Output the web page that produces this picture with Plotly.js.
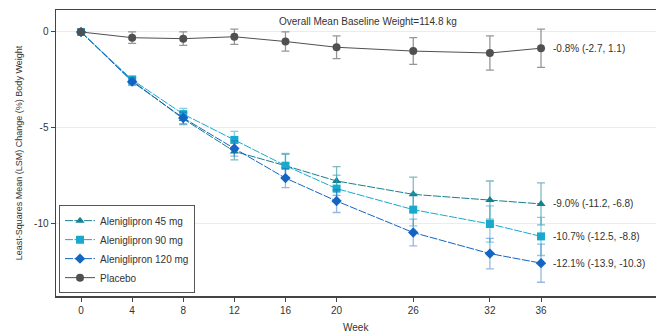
<!DOCTYPE html>
<html>
<head>
<meta charset="utf-8">
<script src="https://cdn.plot.ly/plotly-3.0.1.min.js"></script>
<style>html,body{margin:0;padding:0;background:#fff;}#chart{width:656px;height:336px;}</style>
</head>
<body>
<div id="chart"></div>
<script>
// ---- data ----
const weeks = [0, 4, 8, 12, 16, 20, 26, 32, 36];
const weekTicks = [0, 4, 8, 12, 16, 20, 26, 32, 36];
const seriesNames = ["Aleniglipron 45 mg", "Aleniglipron 90 mg", "Aleniglipron 120 mg", "Placebo"];
const ale45 = [0, -2.55, -4.55, -6.25, -7.0, -7.8, -8.5, -8.8, -9.0];
const ale45Err = [0, 0.2, 0.3, 0.45, 0.6, 0.75, 0.9, 1.0, 1.1];
const ale90 = [0, -2.5, -4.3, -5.65, -7.0, -8.2, -9.3, -10.05, -10.7];
const ale90Err = [0, 0.2, 0.3, 0.45, 0.65, 0.7, 0.85, 0.95, 1.0];
const ale120 = [0, -2.6, -4.5, -6.1, -7.65, -8.85, -10.5, -11.6, -12.1];
const ale120Err = [0, 0.2, 0.3, 0.4, 0.5, 0.6, 0.7, 0.8, 1.0];
const placebo = [0, -0.3, -0.35, -0.25, -0.5, -0.8, -1.0, -1.1, -0.85];
const placeboErr = [0, 0.3, 0.35, 0.4, 0.5, 0.6, 0.7, 0.9, 1.0];
const endLabels = ["-9.0% (-11.2, -6.8)", "-10.7% (-12.5, -8.8)", "-12.1% (-13.9, -10.3)", "-0.8% (-2.7, 1.1)"];
const noteText = "Overall Mean Baseline Weight=114.8 kg";
const xTitle = "Week";
const yTitle = "Least-Squares Mean (LSM) Change (%) Body Weight";

// ---- styles ----
const FONT = "Liberation Sans, Arial, sans-serif";
const styles = [
  {color: "#17808f", err: "rgba(23,128,143,0.55)", symbol: "triangle-up", size: 8, dash: "8px,1.5px"},
  {color: "#19a9cc", err: "rgba(25,169,204,0.55)", symbol: "square", size: 8, dash: "8px,1.5px"},
  {color: "#1464c4", err: "rgba(20,100,196,0.45)", symbol: "diamond", size: 8, dash: "8px,1.5px"},
  {color: "#505050", err: "rgba(80,80,80,0.6)", symbol: "circle", size: 8, dash: "solid"}
];
const values = [ale45, ale90, ale120, placebo];
const errs = [ale45Err, ale90Err, ale120Err, placeboErr];

const traces = values.map((v, i) => ({
  type: "scatter",
  mode: "lines+markers",
  name: seriesNames[i],
  x: weeks,
  y: v,
  error_y: {type: "data", array: errs[i], visible: true, color: styles[i].err, thickness: 1.3, width: 4},
  line: {color: styles[i].color, width: 1, dash: styles[i].dash},
  marker: {color: styles[i].color, symbol: styles[i].symbol, size: styles[i].size}
}));

const annotations = values.map((v, i) => ({
  x: weeks[weeks.length - 1], y: v[v.length - 1], xref: "x", yref: "y",
  text: endLabels[i], showarrow: false, xanchor: "left", yanchor: "middle", xshift: 10,
  font: {family: FONT, size: 10, color: "#333"}
}));
annotations.push({
  x: 0.52, y: 0.985, xref: "paper", yref: "paper", text: noteText, showarrow: false,
  xanchor: "center", yanchor: "top", font: {family: FONT, size: 10, color: "#333"}
});
annotations.push({
  x: 0.5, y: -0.136, xref: "paper", yref: "paper", text: xTitle, showarrow: false,
  xanchor: "center", yanchor: "bottom", font: {family: FONT, size: 10, color: "#333"}
});

const layout = {
  width: 656, height: 336,
  margin: {l: 56, r: 0, t: 10, b: 40},
  paper_bgcolor: "#fff", plot_bgcolor: "#fff",
  font: {family: FONT, size: 10, color: "#333"},
  showlegend: true,
  legend: {
    x: 0.005, y: 0.01, xanchor: "left", yanchor: "bottom",
    bgcolor: "#fff", bordercolor: "#555", borderwidth: 1,
    font: {family: FONT, size: 10, color: "#333"},
    tracegroupgap: 0
  },
  xaxis: {
    range: [-1.96, 45], tickmode: "array", tickvals: weekTicks, ticktext: weekTicks.map(String),
    showgrid: false, zeroline: false, showline: true, linecolor: "#444", linewidth: 1.5,
    mirror: true, ticks: "outside", ticklen: 4, tickcolor: "#444",
    tickfont: {family: FONT, size: 10, color: "#333"}
  },
  yaxis: {
    range: [-13.82, 1.15], tickvals: [0, -5, -10], ticktext: ["0", "-5", "-10"],
    showgrid: true, gridcolor: "#ececec", gridwidth: 1, zeroline: false,
    showline: true, linecolor: "#444", linewidth: 1.5, ticks: "outside", ticklen: 4, tickcolor: "#444",
    tickfont: {family: FONT, size: 10, color: "#333"},
    title: {text: yTitle, font: {family: FONT, size: 9, color: "#333"}, standoff: 10}
  },
  annotations: annotations
};

Plotly.newPlot("chart", traces, layout, {staticPlot: true, displayModeBar: false});
</script>
</body>
</html>
